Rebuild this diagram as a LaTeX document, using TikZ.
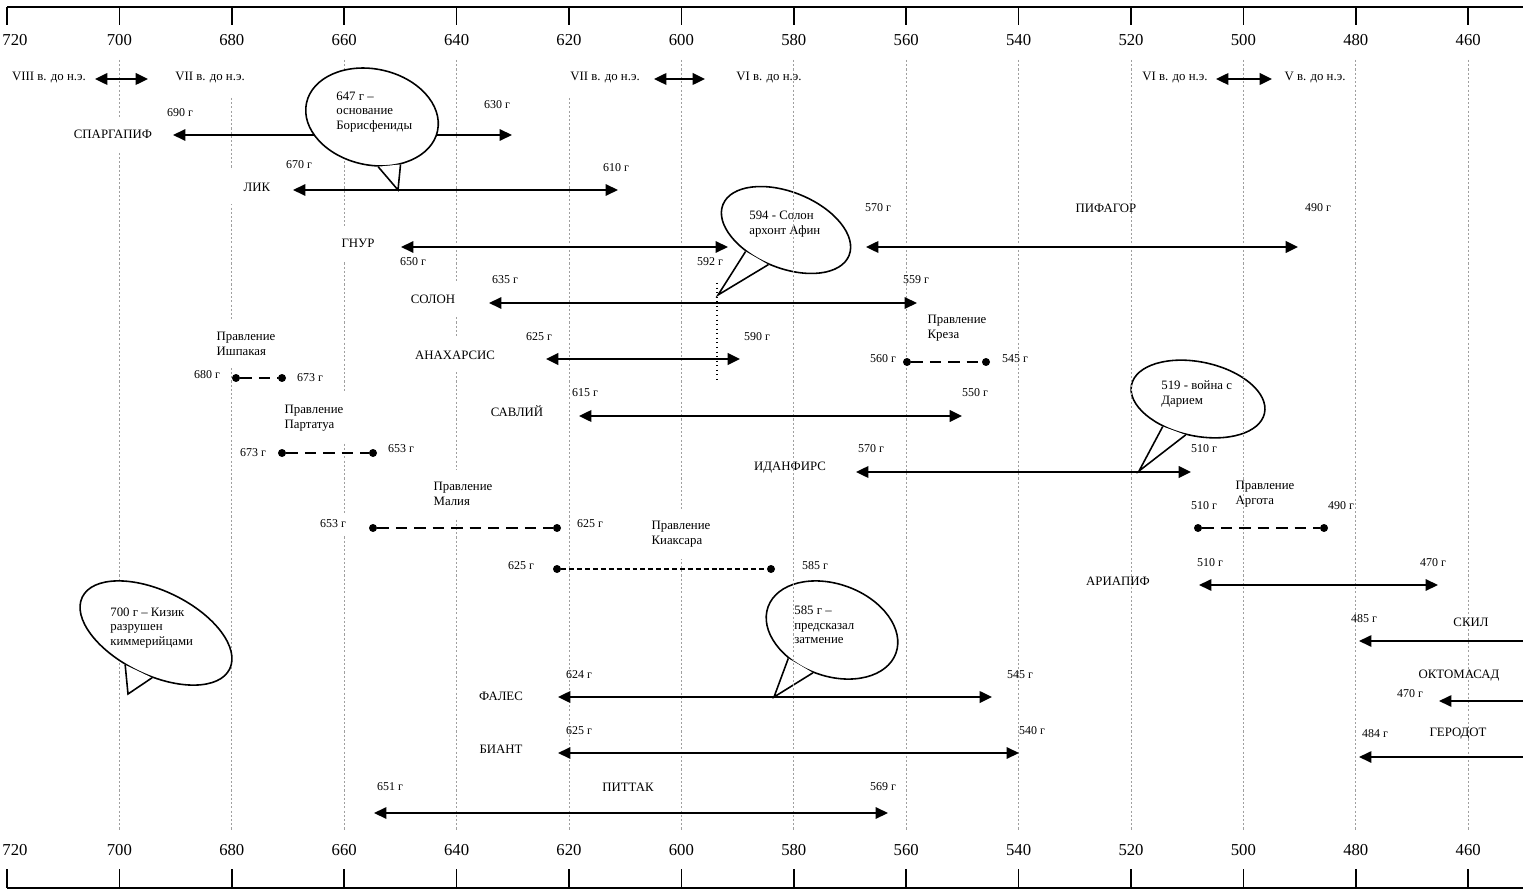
\documentclass[tikz,border=0pt]{standalone}
\usepackage{fontspec}
\setmainfont{Liberation Serif}
\usetikzlibrary{arrows.meta,shapes.geometric}

\tikzset{
  person/.style={font=\fontsize{7.3}{8.3}\selectfont, inner sep=1pt},
  personbox/.style={person, fill=white, inner xsep=7pt, inner ysep=7pt},
  yr/.style={font=\fontsize{6.8}{8}\selectfont, inner sep=1pt},
  yrbox/.style={yr, fill=white, inner xsep=4pt, inner ysep=4pt},
  calltext/.style={person, align=left, anchor=west, inner sep=0pt},
  axisnum/.style={font=\fontsize{9.5}{11}\selectfont, inner sep=0pt},
  axisline/.style={line width=1.1pt},
  axtick/.style={line width=1pt},
  yearline/.style={gray!75, line width=0.4pt, dash pattern=on 1.2pt off 1.2pt},
  life/.style={line width=0.8pt, {Triangle[length=7pt,width=6.5pt]}-{Triangle[length=7pt,width=6.5pt]}},
  bold life/.style={life, line width=1.2pt},
  left life/.style={line width=0.8pt, {Triangle[length=7pt,width=6.5pt]}-},
  reign/.style={line width=1pt, dash pattern=on 6.5pt off 4pt},
  thin reign/.style={line width=0.8pt, dash pattern=on 2.8pt off 1.7pt},
  endpt/.style={circle, fill, inner sep=0pt, minimum size=0.16cm},
  bubble/.style={ellipse, draw, fill=white, line width=0.9pt, inner sep=0pt},
  wedge/.style={draw, fill=white, line width=0.9pt},
}

\begin{document}
\begin{tikzpicture}[x=0.02cm, y=-0.02cm]
\useasboundingbox (0,0) rectangle (1523,891);

% callouts lying under the grid
\node[bubble, minimum width=2.72cm, minimum height=1.52cm, rotate=-22] (b594) at (786,230) {};
\coordinate (t594) at (718,295);
\draw[wedge] (b594.230) -- (t594) -- (b594.265);
\node[calltext] (n594) at (749,224) {594 - Солон\\архонт Афин};

\node[bubble, minimum width=2.72cm, minimum height=1.48cm, rotate=-12] (b519) at (1198,399) {};
\coordinate (t519) at (1139,471);
\draw[wedge] (b519.230) -- (t519) -- (b519.263);
\node[calltext] (n519) at (1161,394) {519 - война с\\Дарием};

\node[bubble, minimum width=2.72cm, minimum height=1.84cm, rotate=-20] (b585) at (832,630) {};
\coordinate (t585) at (774,697);
\draw[wedge] (b585.233) -- (t585) -- (b585.266);
\node[calltext] (n585) at (794,625) {585 г –\\предсказал\\затмение};

% year grid
\foreach \yr in {700,680,...,460}{
  \pgfmathsetmacro\xx{7+(720-\yr)*5.62}
  \draw[yearline] (\xx,60) -- (\xx,830);
}

% top and bottom axes
\draw[axisline] (7,7) -- (1523,7);
\draw[axisline] (7,888) -- (1523,888);
\foreach \yr in {720,700,...,460}{
  \pgfmathsetmacro\xx{7+(720-\yr)*5.62}
  \draw[axtick] (\xx,7) -- (\xx,25);
  \draw[axtick] (\xx,869) -- (\xx,888);
}
\node[axisnum] (t720) at (15,40) {720};
\node[axisnum] (b720) at (15,850) {720};
\foreach \yr in {700,680,...,460}{
  \pgfmathsetmacro\xx{7+(720-\yr)*5.62}
  \node[axisnum] (t\yr) at (\xx,40) {\yr};
  \node[axisnum] (b\yr) at (\xx,850) {\yr};
}

% centuries
\node[person] (c8) at (49,78) {VIII в. до н.э.};
\node[personbox] (c7a) at (210,78) {VII в. до н.э.};
\node[personbox] (c7b) at (605,78) {VII в. до н.э.};
\node[person] (c6a) at (769,78) {VI в. до н.э.};
\node[person] (c6b) at (1175,78) {VI в. до н.э.};
\node[person] (c5) at (1315,78) {V в. до н.э.};

% names
\node[personbox] (sparg) at (113,134) {СПАРГАПИФ};
\node[personbox] (lik) at (257,187) {ЛИК};
\node[personbox] (gnur) at (358,243) {ГНУР};
\node[person] (pifag) at (1106,208) {ПИФАГОР};
\node[personbox] (solon) at (433,299) {СОЛОН};
\node[personbox] (anach) at (455,355) {АНАХАРСИС};
\node[personbox] (savl) at (517,411) {САВЛИЙ};
\node[person] (idanf) at (790,468) {ИДАНФИРС};
\node[person] (ariap) at (1118,581) {АРИАПИФ};
\node[person] (skil) at (1471,622) {СКИЛ};
\node[person] (oktom) at (1459,676) {ОКТОМАСАД};
\node[person] (herod) at (1458,734) {ГЕРОДОТ};
\node[personbox] (fales) at (501,696) {ФАЛЕС};
\node[personbox] (biant) at (501,749) {БИАНТ};
\node[personbox] (pittak) at (628,787) {ПИТТАК};

% reigns
\node[personbox, align=left] (ishp) at (246,344) {Правление\\Ишпакая};
\node[person, align=left] (kreza) at (957,328) {Правление\\Креза};
\node[personbox, align=left] (part) at (314,418) {Правление\\Партатуа};
\node[personbox, align=left] (mal) at (463,494) {Правление\\Малия};
\node[person, align=left] (arg) at (1265,494) {Правление\\Аргота};
\node[personbox, align=left] (kiak) at (681,534) {Правление\\Киаксара};

% century arrows
\draw[bold life] (95,79) coordinate (c87a) -- (148,79) coordinate (c87b);
\draw[bold life] (654,79) coordinate (c76a) -- (705,79) coordinate (c76b);
\draw[bold life] (1216,79) coordinate (c65a) -- (1272,79) coordinate (c65b);

% lifetimes
\draw[life] (173,135) coordinate (sp1) -- (512,135) coordinate (sp2);
\draw[life] (293,190) coordinate (lk1) -- (618,190) coordinate (lk2);
\draw[life] (401,247) coordinate (gn1) -- (728,247) coordinate (gn2);
\draw[bold life] (866,247) coordinate (pf1) -- (1298,247) coordinate (pf2);
\draw[life] (489,303) coordinate (sl1) -- (917,303) coordinate (sl2);
\draw[bold life, line width=1.5pt] (546,359) coordinate (an1) -- (740,359) coordinate (an2);
\draw[bold life] (579,416) coordinate (sv1) -- (962,416) coordinate (sv2);
\draw[bold life] (856,472) coordinate (id1) -- (1191,472) coordinate (id2);
\draw[life] (1199,585) coordinate (ar1) -- (1438,585) coordinate (ar2);
\draw[left life] (1359,641) coordinate (sk1) -- (1523,641) coordinate (sk2);
\draw[left life] (1439,701) coordinate (ok1) -- (1523,701) coordinate (ok2);
\draw[left life] (1359,757) coordinate (hr1) -- (1523,757) coordinate (hr2);
\draw[bold life] (558,697) coordinate (fl1) -- (992,697) coordinate (fl2);
\draw[life] (558,753) coordinate (bi1) -- (1019,753) coordinate (bi2);
\draw[life] (374,813) coordinate (pt1) -- (888,813) coordinate (pt2);

% reign spans
\node[endpt] (ish1) at (236,378) {};
\node[endpt] (ish2) at (282,378) {};
\draw[reign] (ish1) -- (ish2);
\node[endpt] (kr1) at (907,362) {};
\node[endpt] (kr2) at (986,362) {};
\draw[reign] (kr1) -- (kr2);
\node[endpt] (pa1) at (282,453) {};
\node[endpt] (pa2) at (373,453) {};
\draw[reign] (pa1) -- (pa2);
\node[endpt] (ma1) at (373,528) {};
\node[endpt] (ma2) at (557,528) {};
\draw[reign] (ma1) -- (ma2);
\node[endpt] (ag1) at (1198,528) {};
\node[endpt] (ag2) at (1324,528) {};
\draw[reign] (ag1) -- (ag2);
\node[endpt] (ki1) at (557,569) {};
\node[endpt] (ki2) at (771,569) {};
\draw[thin reign] (ki1) -- (ki2);

% callouts lying over the grid
\node[bubble, minimum width=2.68cm, minimum height=1.92cm, rotate=-12] (b647) at (372,117) {};
\coordinate (t647) at (398,190);
\draw[wedge] (b647.289) -- (t647) -- (b647.313);
\node[calltext] (n647) at (336,112) {647 г –\\основание\\Борисфениды};

\node[bubble, minimum width=3.28cm, minimum height=1.68cm, rotate=-26] (b700) at (156,633) {};
\coordinate (t700) at (128,694);
\draw[wedge] (b700.252) -- (t700) -- (b700.291);
\node[calltext] (n700) at (110,628) {700 г – Кизик\\разрушен\\киммерийцами};

\draw[dotted, line width=0.6pt] (t594) ++(-1,-12) -- (717,380);

% years
\node[yr] (y690) at (180,113) {690 г};
\node[yr] (y630) at (497,105) {630 г};
\node[yr] (y670) at (299,165) {670 г};
\node[yr] (y610) at (616,168) {610 г};
\node[yr] (y650) at (413,262) {650 г};
\node[yr] (y592) at (710,262) {592 г};
\node[yr] (pf570) at (878,208) {570 г};
\node[yr] (pf490) at (1318,208) {490 г};
\node[yr] (sl635) at (505,280) {635 г};
\node[yr] (sl559) at (916,280) {559 г};
\node[yr] (an625) at (539,337) {625 г};
\node[yr] (an590) at (757,337) {590 г};
\node[yr] (kr560) at (883,359) {560 г};
\node[yr] (kr545) at (1015,359) {545 г};
\node[yr] (is680) at (207,375) {680 г};
\node[yr] (is673) at (310,378) {673 г};
\node[yr] (sv615) at (585,393) {615 г};
\node[yr] (sv550) at (975,393) {550 г};
\node[yrbox] (pa673) at (253,453) {673 г};
\node[yr] (pa653) at (401,449) {653 г};
\node[yr] (id570) at (871,449) {570 г};
\node[yr] (id510) at (1204,449) {510 г};
\node[yrbox] (ma653) at (333,524) {653 г};
\node[yrbox] (ma625) at (590,524) {625 г};
\node[yr] (ag510) at (1204,506) {510 г};
\node[yr] (ag490) at (1341,506) {490 г};
\node[yr] (ki625) at (521,566) {625 г};
\node[yr] (ki585) at (815,566) {585 г};
\node[yr] (ar510) at (1210,563) {510 г};
\node[yr] (ar470) at (1433,563) {470 г};
\node[yr] (sk485) at (1364,619) {485 г};
\node[yr] (ok470) at (1410,694) {470 г};
\node[yr] (hr484) at (1375,734) {484 г};
\node[yr] (fl624) at (579,675) {624 г};
\node[yr] (fl545) at (1020,675) {545 г};
\node[yr] (bi625) at (579,731) {625 г};
\node[yr] (bi540) at (1032,731) {540 г};
\node[yr] (pt651) at (390,787) {651 г};
\node[yr] (pt569) at (883,787) {569 г};
\end{tikzpicture}
\end{document}
